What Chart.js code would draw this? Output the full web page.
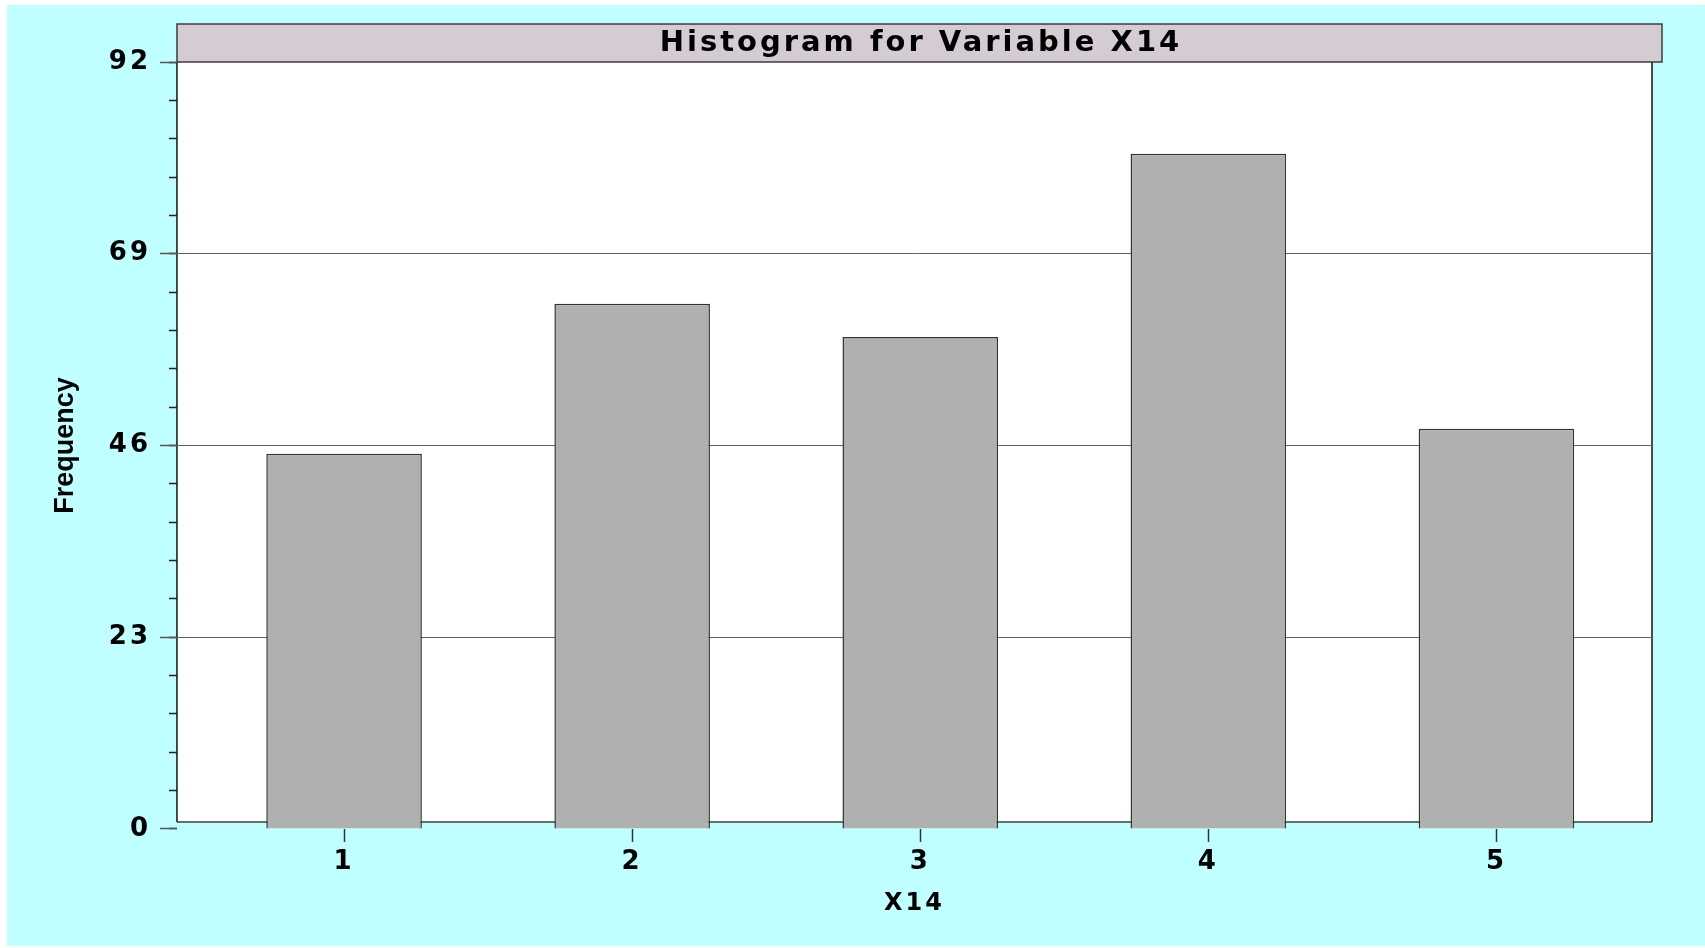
<!DOCTYPE html>
<html>
<head>
<meta charset="utf-8">
<title>Histogram for Variable X14</title>
<script src="https://cdn.jsdelivr.net/npm/chart.js@4.4.1/dist/chart.umd.min.js"></script>
<style>
  html, body { margin: 0; padding: 0; background: #fff; }
  canvas { display: block; }
</style>
</head>
<body>
<canvas id="histChart" width="1705" height="948"></canvas>
<script>
var categories = [1, 2, 3, 4, 5];
var frequencies = [45, 63, 59, 81, 48];
var yTicks = [0, 23, 46, 69, 92];
var yMinorStep = 4.6;
var xRange = [0.42, 5.54];

var chartTitle = 'Histogram for Variable X14';
var xTitle = 'X14';
var yTitle = 'Frequency';

var boldFont = function(size) {
  return { family: '"DejaVu Sans", sans-serif', weight: 'bold', size: size };
};

// cyan page, white framed plot box, grey title strip
// most text is spaced out like the original; the y title (drawn after the bars) is not
var framePlugin = {
  id: 'frame',
  beforeUpdate: function(chart) {
    chart.ctx.letterSpacing = '3px';
  },
  afterLayout: function(chart) {
    // title strip sticks out 10px past the plot on the right, centre the text on it
    if (chart.titleBlock) chart.titleBlock.right += 13;
  },
  beforeDraw: function(chart) {
    var ctx = chart.ctx;
    var a = chart.chartArea;
    ctx.letterSpacing = '3px';
    ctx.save();
    ctx.fillStyle = '#ffffff';
    ctx.fillRect(0, 0, chart.width, chart.height);
    ctx.fillStyle = '#c0ffff';
    ctx.fillRect(7, 5, chart.width - 7, chart.height - 7);

    var boxBottom = a.bottom - 7;
    ctx.fillStyle = '#ffffff';
    ctx.fillRect(a.left, a.top, a.right - a.left, boxBottom - a.top);

    ctx.lineWidth = 2;
    ctx.strokeStyle = '#6b6b6b';
    ctx.beginPath();
    ctx.moveTo(a.left, boxBottom);
    ctx.lineTo(a.right, boxBottom);
    ctx.stroke();

    ctx.lineWidth = 1.5;
    ctx.strokeStyle = '#111111';
    ctx.beginPath();
    ctx.moveTo(a.left, a.top);
    ctx.lineTo(a.left, boxBottom);
    ctx.moveTo(a.right, a.top);
    ctx.lineTo(a.right, boxBottom);
    ctx.stroke();

    // title strip
    ctx.fillStyle = '#d5cbd3';
    ctx.fillRect(a.left, a.top - 38, a.right + 10 - a.left, 38);
    ctx.strokeStyle = '#3c3c3c';
    ctx.lineWidth = 1.5;
    ctx.strokeRect(a.left, a.top - 38, a.right + 10 - a.left, 38);
    ctx.restore();
  },
  afterDatasetsDraw: function(chart) {
    chart.ctx.letterSpacing = '0px';
  }
};

var hiddenAxis = function(extra) {
  var base = {
    position: 'left',
    weight: 0,
    min: yTicks[0],
    max: yTicks[yTicks.length - 1],
    border: { display: false },
    afterFit: function(scale) { scale.width = 0; }
  };
  return Object.assign(base, extra);
};

var ctxDir = document.getElementById('histChart');
var histChart = new Chart(ctxDir, {
  type: 'bar',
  plugins: [framePlugin],
  data: {
    datasets: [{
      label: yTitle,
      data: categories.map(function(c, i) { return { x: c, y: frequencies[i] }; }),
      backgroundColor: '#b0b0b0',
      borderColor: '#333333',
      borderWidth: 1.5,
      barPercentage: 0.54,
      categoryPercentage: 1,
      xAxisID: 'x',
      yAxisID: 'y'
    }]
  },
  options: {
    responsive: false,
    animation: false,
    layout: { padding: { left: 49.4, right: 53, top: 24, bottom: 30 } },
    plugins: {
      legend: { display: false },
      tooltip: { enabled: false },
      title: {
        display: true,
        text: chartTitle,
        fullSize: false,
        color: '#000',
        padding: 0,
        font: { family: '"DejaVu Sans", sans-serif', weight: 'bold', size: 29, lineHeight: '38px' }
      }
    },
    scales: {
      x: {
        type: 'linear',
        min: xRange[0],
        max: xRange[1],
        offset: false,
        afterBuildTicks: function(scale) {
          scale.ticks = categories.map(function(v) { return { value: v }; });
        },
        grid: { offset: false, drawOnChartArea: false, drawTicks: true, tickLength: 13, tickColor: '#333', tickWidth: 1.5 },
        border: { display: false },
        ticks: { padding: 4.4, color: '#000', maxRotation: 0, font: boldFont(26) },
        title: { display: true, text: xTitle, color: '#000', font: boldFont(24), padding: { top: 7.3, bottom: 0 } }
      },
      y: {
        position: 'left',
        weight: 1,
        min: yTicks[0],
        max: yTicks[yTicks.length - 1],
        afterBuildTicks: function(scale) {
          scale.ticks = yTicks.map(function(v) { return { value: v }; });
        },
        grid: {
          z: 1,
          drawOnChartArea: false,
          drawTicks: true,
          tickLength: 17,
          tickColor: '#555',
          tickWidth: 1.5
        },
        border: { display: false },
        ticks: { padding: 9, color: '#000', font: boldFont(26) },
        title: {
          display: true,
          text: yTitle,
          color: '#000',
          font: { family: '"Liberation Sans", Arial, sans-serif', weight: 'bold', size: 27 },
          padding: { top: 0, bottom: 18 }
        }
      },
      // horizontal grid lines across the plot
      yGrid: hiddenAxis({
        afterBuildTicks: function(scale) {
          scale.ticks = yTicks.map(function(v) { return { value: v }; });
        },
        ticks: { display: false },
        grid: {
          drawTicks: false,
          lineWidth: 1,
          color: function(c) {
            var v = c.tick ? c.tick.value : null;
            return (v === yTicks[0] || v === yTicks[yTicks.length - 1]) ? 'rgba(0,0,0,0)' : '#606060';
          }
        }
      }),
      // short minor tick marks
      yMinor: hiddenAxis({
        ticks: { display: false, stepSize: yMinorStep },
        grid: { drawOnChartArea: false, drawTicks: true, tickLength: 8, tickColor: '#222', tickWidth: 1.5 }
      })
    }
  }
});
</script>
</body>
</html>
